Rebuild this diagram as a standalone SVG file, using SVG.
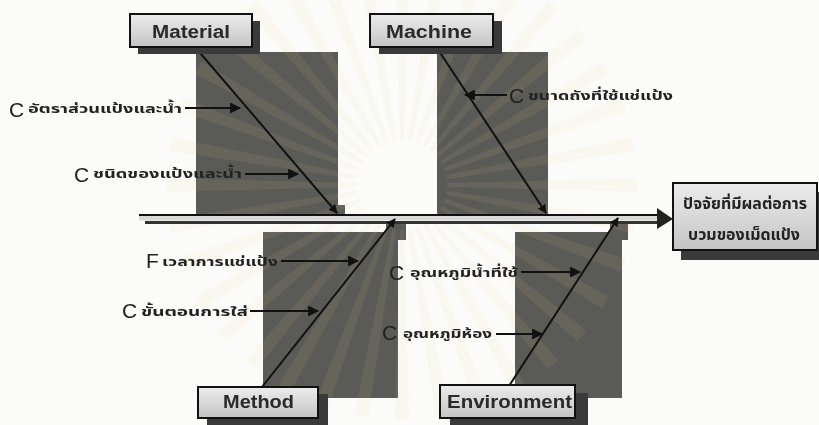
<svg xmlns="http://www.w3.org/2000/svg" width="819" height="425" viewBox="0 0 819 425">
  <defs>
    <linearGradient id="boxFill" x1="0" y1="0" x2="0" y2="1">
      <stop offset="0" stop-color="#ececec"/>
      <stop offset="1" stop-color="#c4c4c4"/>
    </linearGradient>
    <marker id="head" viewBox="0 0 10 10" refX="9" refY="5" markerWidth="5" markerHeight="5" orient="auto" markerUnits="strokeWidth">
      <path d="M0,0 L10,5 L0,10 Z" fill="#111"/>
    </marker>
    <marker id="headSmall" viewBox="0 0 10 10" refX="9" refY="5" markerWidth="4.5" markerHeight="4.5" orient="auto" markerUnits="strokeWidth">
      <path d="M0,0 L10,5 L0,10 Z" fill="#111"/>
    </marker>
    <!-- one ray of the faint background emblem -->
    <path id="ray" d="M-2,-45 L2,-45 L7,-235 L-7,-235 Z"/>
  </defs>
  <style>
    .panel { fill: #5a5a57; }
    .shadow { fill: #3a3a3a; }
    .box { fill: url(#boxFill); stroke: #111; stroke-width: 2; }
    .cat { font-family: "Liberation Sans", Arial, sans-serif; font-weight: bold; font-size: 18px; fill: #2a2a2a; }
    .bone { stroke: #111; stroke-width: 2; fill: none; }
    .cause { stroke: #111; stroke-width: 2.2; fill: none; marker-end: url(#head); }
    .big { font-family: "Liberation Sans", Arial, sans-serif; font-size: 21px; fill: #222; }
    .th { font-family: "Noto Sans Thai", "Noto Sans", "DejaVu Sans", sans-serif; font-weight: bold; font-size: 13px; fill: #222; }
    .res { font-family: "Noto Sans Thai", "Noto Sans", "DejaVu Sans", sans-serif; font-weight: bold; font-size: 15px; fill: #222; }
  </style>

  <rect width="819" height="425" fill="#fbfbf9"/>

  <!-- dark backing panels behind each branch -->
  <g id="panels">
    <rect class="panel" x="196" y="52" width="142" height="162"/>
    <rect class="panel" x="333" y="205" width="12" height="10"/>
    <rect class="panel" x="437" y="52" width="111" height="162"/>
    <rect class="panel" x="263" y="232" width="135" height="166"/>
    <rect class="panel" x="386" y="222" width="20" height="18"/>
    <rect class="panel" x="515" y="232" width="107" height="166"/>
    <rect class="panel" x="610" y="222" width="18" height="18"/>
  </g>

  <!-- faint sunburst emblem in the background -->
  <g id="emblem" transform="translate(402,185)" fill="#e2cc8c" opacity="0.09">
    <use href="#ray" transform="rotate(0)"/>
    <use href="#ray" transform="rotate(10)"/>
    <use href="#ray" transform="rotate(20)"/>
    <use href="#ray" transform="rotate(30)"/>
    <use href="#ray" transform="rotate(40)"/>
    <use href="#ray" transform="rotate(50)"/>
    <use href="#ray" transform="rotate(60)"/>
    <use href="#ray" transform="rotate(70)"/>
    <use href="#ray" transform="rotate(80)"/>
    <use href="#ray" transform="rotate(90)"/>
    <use href="#ray" transform="rotate(100)"/>
    <use href="#ray" transform="rotate(110)"/>
    <use href="#ray" transform="rotate(120)"/>
    <use href="#ray" transform="rotate(130)"/>
    <use href="#ray" transform="rotate(140)"/>
    <use href="#ray" transform="rotate(150)"/>
    <use href="#ray" transform="rotate(160)"/>
    <use href="#ray" transform="rotate(170)"/>
    <use href="#ray" transform="rotate(180)"/>
    <use href="#ray" transform="rotate(190)"/>
    <use href="#ray" transform="rotate(200)"/>
    <use href="#ray" transform="rotate(210)"/>
    <use href="#ray" transform="rotate(220)"/>
    <use href="#ray" transform="rotate(230)"/>
    <use href="#ray" transform="rotate(240)"/>
    <use href="#ray" transform="rotate(250)"/>
    <use href="#ray" transform="rotate(260)"/>
    <use href="#ray" transform="rotate(270)"/>
    <use href="#ray" transform="rotate(280)"/>
    <use href="#ray" transform="rotate(290)"/>
    <use href="#ray" transform="rotate(300)"/>
    <use href="#ray" transform="rotate(310)"/>
    <use href="#ray" transform="rotate(320)"/>
    <use href="#ray" transform="rotate(330)"/>
    <use href="#ray" transform="rotate(340)"/>
    <use href="#ray" transform="rotate(350)"/>
  </g>

  <!-- spine and bones -->
  <g id="connectors">
    <!-- spine: outlined bar with a drop shadow -->
    <rect x="145" y="221" width="516" height="3" fill="#333"/>
    <rect x="139" y="214.5" width="520" height="6" fill="#d8d8d8"/>
    <line x1="139" y1="215" x2="659" y2="215" stroke="#111" stroke-width="2"/>
    <path d="M657,208 L673,219 L657,229 Z" fill="#222"/>

    <!-- main bones -->
    <line class="bone" x1="195" y1="47" x2="337" y2="213" marker-end="url(#headSmall)"/>
    <line class="bone" x1="437" y1="48" x2="546" y2="213" marker-end="url(#headSmall)"/>
    <line class="bone" x1="262" y1="387" x2="395" y2="219" marker-end="url(#headSmall)"/>
    <line class="bone" x1="509" y1="386" x2="618" y2="218" marker-end="url(#headSmall)"/>

    <!-- cause arrows -->
    <line class="cause" x1="185" y1="108" x2="240" y2="108"/>
    <line class="cause" x1="245" y1="174" x2="298" y2="174"/>
    <line class="cause" x1="507" y1="95" x2="465" y2="95"/>
    <line class="cause" x1="281" y1="261" x2="358" y2="261"/>
    <line class="cause" x1="250" y1="311" x2="318" y2="311"/>
    <line class="cause" x1="521" y1="272" x2="580" y2="272"/>
    <line class="cause" x1="496" y1="334" x2="542" y2="334"/>
  </g>

  <!-- category nodes -->
  <g id="material">
    <rect class="shadow" x="138" y="21" width="122" height="33"/>
    <rect class="box" x="130" y="14" width="122" height="33"/>
    <text class="cat" x="152" y="38" textLength="78" lengthAdjust="spacingAndGlyphs">Material</text>
  </g>
  <g id="machine">
    <rect class="shadow" x="379" y="21" width="123" height="33"/>
    <rect class="box" x="370" y="14" width="123" height="33"/>
    <text class="cat" x="386" y="38" textLength="86" lengthAdjust="spacingAndGlyphs">Machine</text>
  </g>
  <g id="method">
    <rect class="shadow" x="207" y="394" width="121" height="33"/>
    <rect class="box" x="198" y="387" width="120" height="31"/>
    <text class="cat" x="223" y="408" textLength="71" lengthAdjust="spacingAndGlyphs">Method</text>
  </g>
  <g id="environment">
    <rect class="shadow" x="450" y="393" width="138" height="34"/>
    <rect class="box" x="440" y="385" width="135" height="33"/>
    <text class="cat" x="447" y="408" textLength="125" lengthAdjust="spacingAndGlyphs">Environment</text>
  </g>

  <!-- effect node -->
  <g id="effect">
    <rect class="shadow" x="681" y="192" width="140" height="68"/>
    <rect class="box" x="673" y="183" width="144" height="67"/>
    <text class="res" x="683" y="209" textLength="124" lengthAdjust="spacingAndGlyphs">ปัจจัยที่มีผลต่อการ</text>
    <text class="res" x="688" y="240" textLength="112" lengthAdjust="spacingAndGlyphs">บวมของเม็ดแป้ง</text>
  </g>

  <!-- cause labels -->
  <g id="cause-labels">
    <text class="big" x="9" y="117">C</text>
    <text class="th" x="28" y="113" textLength="154" lengthAdjust="spacingAndGlyphs">อัตราส่วนแป้งและน้ำ</text>
    <text class="big" x="74" y="182">C</text>
    <text class="th" x="93" y="178" textLength="149" lengthAdjust="spacingAndGlyphs">ชนิดของแป้งและน้ำ</text>
    <text class="big" x="509" y="103">C</text>
    <text class="th" x="528" y="100" textLength="145" lengthAdjust="spacingAndGlyphs">ขนาดถังที่ใช้แช่แป้ง</text>
    <text class="big" x="146" y="268">F</text>
    <text class="th" x="162" y="266" textLength="116" lengthAdjust="spacingAndGlyphs">เวลาการแช่แป้ง</text>
    <text class="big" x="122" y="318">C</text>
    <text class="th" x="141" y="316" textLength="107" lengthAdjust="spacingAndGlyphs">ขั้นตอนการใส่</text>
    <text class="big" x="389" y="280">C</text>
    <text class="th" x="410" y="277" textLength="108" lengthAdjust="spacingAndGlyphs">อุณหภูมิน้ำที่ใช้</text>
    <text class="big" x="382" y="340">C</text>
    <text class="th" x="403" y="338" textLength="89" lengthAdjust="spacingAndGlyphs">อุณหภูมิห้อง</text>
  </g>
</svg>
